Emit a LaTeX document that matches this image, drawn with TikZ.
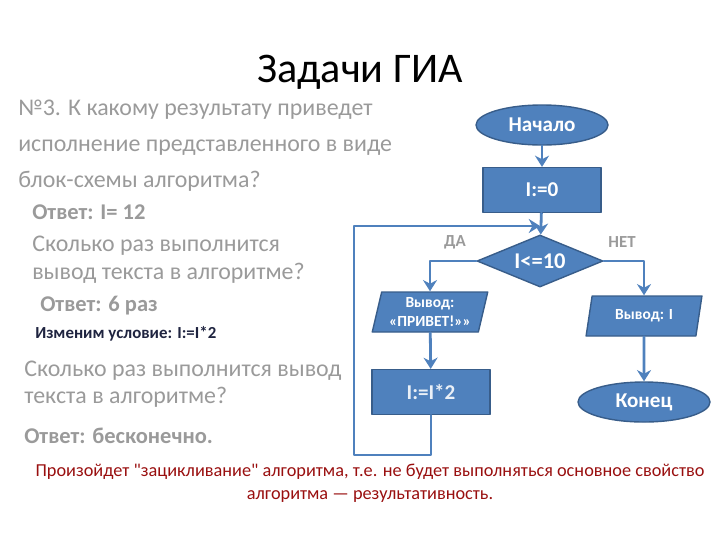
\documentclass[tikz,border=0pt]{standalone}
\usepackage{fontspec}
\setmainfont{Carlito}[Ligatures=TeXOff]
\usetikzlibrary{arrows.meta,shapes.geometric,positioning}
\definecolor{boxblue}{HTML}{4F81BD}
\definecolor{boxedge}{HTML}{385D8A}
\definecolor{greytext}{HTML}{9A9A9A}
\definecolor{darkred}{HTML}{990F0F}
\definecolor{navy}{HTML}{1F2440}

\begin{document}
\begin{tikzpicture}[x=0.025cm,y=-0.025cm,line cap=round,line join=round,
  body/.style={anchor=base west,text=greytext,inner sep=0pt,font=\fontsize{17}{20}\selectfont},
  answer/.style={anchor=base west,text=greytext,inner sep=0pt,font=\bfseries\fontsize{16}{19}\selectfont},
  block/.style={draw=boxedge,fill=boxblue,line width=1pt,text=white,inner sep=0pt,align=center},
  term/.style={block,ellipse,minimum width=3.3cm,minimum height=1cm,font=\bfseries\fontsize{15}{18}\selectfont},
  proc/.style={block,rectangle,minimum width=2.95cm,minimum height=1.12cm,font=\bfseries\fontsize{15}{18}\selectfont},
  cond/.style={block,diamond,aspect=2.5,minimum width=3.15cm,minimum height=1.3cm,font=\bfseries\fontsize{16}{19}\selectfont},
  io/.style={block,trapezium,trapezium left angle=75,trapezium right angle=105,trapezium stretches=true,
    minimum width=2.9cm,minimum height=1cm,font=\bfseries\fontsize{11}{14}\selectfont},
  flow/.style={draw=boxblue,line width=2pt,-{Stealth[length=8pt,width=10pt]}},
  branch/.style={text=greytext,font=\bfseries\fontsize{12}{14}\selectfont}]
  \useasboundingbox (0,0) rectangle (720,540);

  % title and the task text on the left
  \node[anchor=base,inner sep=0pt,font=\fontsize{30}{36}\selectfont] (title) at (360,82) {Задачи ГИА};
  \node[body] (q1) at (18,115) {№3. К какому результату приведет};
  \node[body] (q2) at (18,151) {исполнение представленного в виде};
  \node[body] (q3) at (18,187) {блок-схемы алгоритма?};
  \node[answer] (a1) at (32,219) {Ответ: I= 12};
  \node[body] (q4) at (32,251) {Сколько раз выполнится};
  \node[body] (q5) at (32,279) {вывод текста в алгоритме?};
  \node[answer] (a2) at (40,311) {Ответ: 6 раз};
  \node[anchor=base west,inner sep=0pt,text=navy,font=\bfseries\fontsize{12}{14}\selectfont] (change) at (35,338) {Изменим условие: I:=I*2};
  \node[body] (q6) at (24,376) {Сколько раз выполнится вывод};
  \node[body] (q7) at (24,403) {текста в алгоритме?};
  \node[answer] (a3) at (24,443) {Ответ: бесконечно.};

  % the flowchart
  \node[term] (start) at (542,125) {Начало};
  \node[proc] (init) at (542,190) {I:=0};
  \node[cond] (test) at (540,261) {I<=10};
  \node[io] (hello) at (430,312) {Вывод:\\«ПРИВЕТ!»»};
  \node[io] (showi) at (644,316) {Вывод: I};
  \node[proc,text=white!88!boxblue] (double) at (431,392) {I:=I*2};
  \node[term] (stop) at (644,402) {Конец};
  \node[branch] (yes) at (455,242) {ДА};
  \node[branch] (no) at (622,242) {НЕТ};

  \coordinate (loopcorner) at (354,455);
  \coordinate (merge) at (540,226);

  \draw[flow] (start) -- (init);
  \draw[flow] (init) -- (test);
  \draw[flow] (test.west) -| (hello.north);
  \draw[flow] (test.east) -| (showi.north);
  \draw[flow] (hello) -- (double);
  \draw[flow] (showi) -- (stop);
  \draw[flow] (double.south) |- (loopcorner) |- (merge);

  % the conclusion
  \node[anchor=base,inner sep=0pt,text=darkred,font=\fontsize{13}{16}\selectfont] (end1) at (370,476)
    {Произойдет "зацикливание" алгоритма, т.е. не будет выполняться основное свойство};
  \node[anchor=base,inner sep=0pt,text=darkred,font=\fontsize{13}{16}\selectfont] (end2) at (370,499)
    {алгоритма — результативность.};
\end{tikzpicture}
\end{document}
